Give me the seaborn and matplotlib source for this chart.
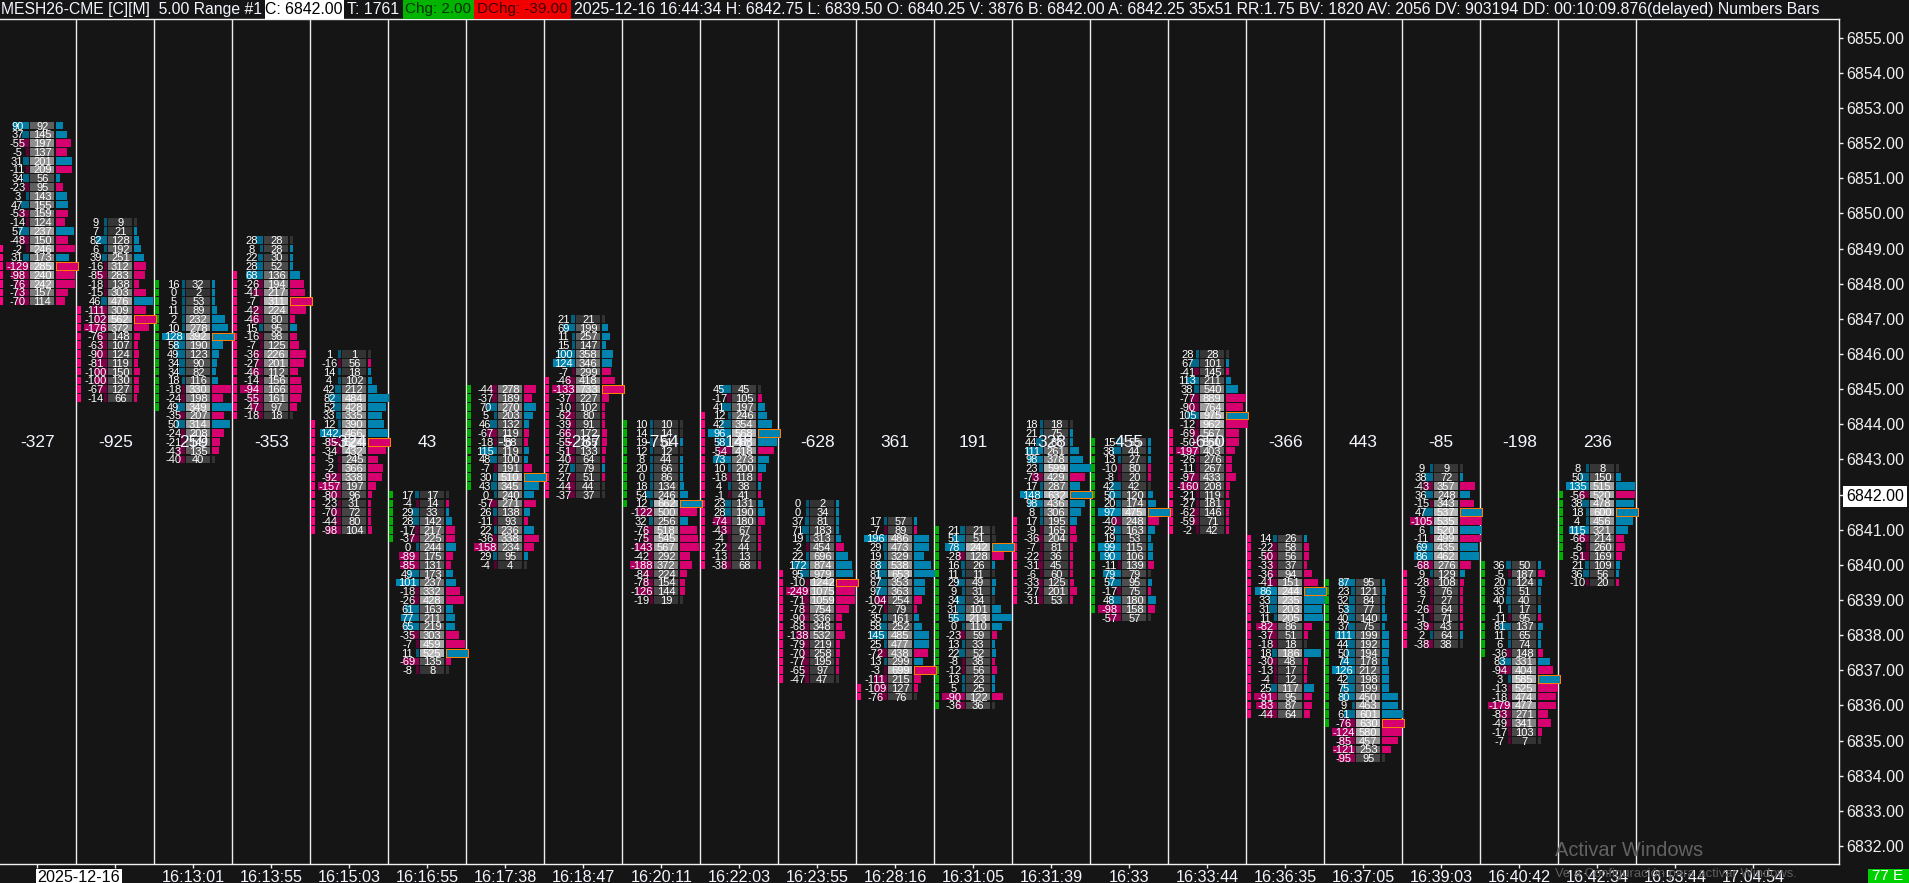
import numpy as np
import pandas as pd
import seaborn as sns
import matplotlib
matplotlib.use("Agg")
import matplotlib.pyplot as plt
from matplotlib import font_manager as fm
from matplotlib.patches import Rectangle

# ---------- data ----------
tick_labels = ["2025-12-16", "", "16:13:01", "16:13:55", "16:15:03", "16:16:55", "16:17:38", "16:18:47",
               "16:20:11", "16:22:03", "16:23:55", "16:28:16", "16:31:05", "16:31:39", "16:33", "16:33:44",
               "16:36:35", "16:37:05", "16:39:03", "16:40:42", "16:42:34", "16:53:44", "17:04:54"]
top_prices = [6852.5, 6849.75, 6848, 6849.25, 6846, 6842, 6845, 6847, 6844, 6845, 6841.75, 6841.25, 6841,
              6844, 6843.5, 6846, 6840.75, 6839.5, 6842.75, 6840, 6842.75]
net_delta = [-327, -925, 259, -353, -324, 43, -5, -287, -754, 148, -628, 361, 191, 328, 455, -650, -366, 443,
             -85, -198, 236]
body_first_row = [14, 10, 0, 4, 8, 0, 0, 7, 0, 3, 8, 19, 0, 11, 0, 9, 0, 0, 12, 0, 3]
body_last_row = [20, 20, 14, 20, 20, 5, 11, 20, 9, 20, 20, 20, 20, 20, 19, 20, 20, 16, 20, 10, 10]
body_is_up = [0, 0, 1, 0, 0, 1, 1, 0, 1, 0, 0, 0, 1, 0, 1, 0, 0, 1, 0, 1, 1]

deltas = [
    [90, 37, -55, -5, 31, -11, 34, -23, 3, 47, -53, -14, 57, -48, -2, 31, -129, -98, -76, -73, -70],
    [9, 7, 82, 6, 39, -16, -85, -18, -15, 46, -111, -102, -176, -76, -63, -90, -81, -100, -100, -67, -14],
    [16, 0, 5, 11, 2, 10, 128, 58, 49, 34, 34, 18, -18, -24, 49, -35, 50, -24, -21, -43, -40],
    [28, 8, 22, 28, 68, -26, -41, -7, -42, -46, 15, -16, -7, -36, -27, -46, -14, -94, -55, -47, -18],
    [1, -16, 14, 4, 42, 82, 52, 33, 12, 142, -85, -34, -5, -2, -92, -157, -80, -23, -70, -44, -98],
    [17, -4, 29, 28, -17, -37, 0, -89, -85, 49, 101, -18, -26, 61, 77, 65, -35, -7, 11, -69, -8],
    [-44, -37, 70, 5, 46, -67, -18, 115, 48, -7, 30, 43, 0, -57, 26, -11, 22, -36, -158, 29, -4],
    [21, 69, 11, 15, 100, 124, -7, -46, -133, -37, -10, -62, -39, -66, -55, -51, -40, 27, -27, -44, -37],
    [10, 14, 19, 12, 8, 20, 0, 18, 54, 12, -122, 32, -76, -75, -143, -42, -188, -84, -78, -126, -19],
    [45, -17, 41, 12, 42, 96, 58, -54, 73, 10, -18, 4, -1, 23, 28, -74, -43, -4, -22, -13, -38],
    [0, 0, 37, 71, 19, -2, 22, 172, 95, -10, -249, -71, -78, -90, -68, -138, -79, -70, -77, -65, -47],
    [17, -7, 196, 29, 19, 88, 81, 67, 97, -104, -27, 35, 58, 145, 25, -72, 13, -3, -111, -109, -76],
    [21, 51, 78, -28, 16, 11, 29, 9, 34, 31, 55, 0, -23, 13, 22, -8, -12, 13, 5, -90, -36],
    [18, 21, 44, 111, 98, 23, -73, 17, 148, 98, 8, 17, -9, -36, -7, -22, -31, -6, -33, -27, -31],
    [15, 38, 13, -10, -8, 42, 50, 20, 97, -40, 29, 19, 99, 90, -11, 79, 57, -17, 48, -98, -57],
    [28, 67, -41, 113, 38, -77, -90, 105, -12, -69, -50, -197, -26, -11, -97, -160, -21, -27, -62, -59, -2],
    [14, -22, -50, -33, -36, -41, 86, 33, 31, 11, -82, -37, -18, 18, -30, -13, -4, 25, -91, -83, -44],
    [87, 23, 32, 53, 40, 37, 111, 44, 50, 74, 126, 42, 75, 80, 9, 61, -76, -124, -85, -121, -95],
    [9, 38, -43, 36, -15, 47, -105, 6, -11, 69, 86, -68, 9, -28, -6, -7, -26, -1, -39, 2, -38],
    [36, -5, 20, 33, 40, 1, -11, 81, 11, 6, -36, 83, -94, 3, -13, -18, -179, -83, -49, -17, -7],
    [8, 50, 135, -56, 38, 18, 4, 115, -66, -6, -51, 21, 36, -10],
]
volumes = [
    [92, 145, 197, 137, 201, 209, 56, 95, 143, 155, 159, 124, 237, 150, 246, 173, 285, 240, 242, 157, 114],
    [9, 21, 128, 192, 251, 312, 283, 138, 303, 476, 309, 562, 372, 148, 107, 124, 119, 150, 130, 127, 66],
    [32, 2, 53, 89, 232, 278, 392, 190, 123, 90, 82, 116, 330, 198, 349, 207, 314, 208, 149, 135, 40],
    [28, 28, 30, 52, 136, 194, 217, 311, 224, 80, 95, 98, 125, 226, 201, 112, 156, 166, 161, 97, 18],
    [1, 56, 18, 102, 212, 484, 428, 335, 390, 466, 524, 432, 245, 366, 338, 197, 96, 31, 72, 80, 104],
    [17, 14, 33, 142, 217, 225, 244, 175, 131, 173, 237, 332, 428, 163, 211, 219, 303, 459, 525, 135, 8],
    [278, 189, 270, 203, 132, 119, 88, 119, 100, 191, 510, 345, 240, 271, 138, 93, 236, 338, 234, 95, 4],
    [21, 199, 257, 147, 358, 346, 299, 418, 733, 227, 102, 80, 91, 172, 165, 133, 64, 79, 51, 44, 37],
    [10, 14, 61, 12, 44, 66, 86, 134, 246, 662, 500, 256, 518, 545, 567, 292, 372, 224, 154, 144, 19],
    [45, 105, 197, 246, 354, 568, 488, 418, 273, 200, 118, 38, 41, 131, 190, 180, 67, 72, 44, 13, 68],
    [2, 34, 81, 183, 313, 454, 696, 874, 979, 1242, 1075, 1059, 754, 336, 348, 532, 219, 258, 195, 97, 47],
    [57, 89, 486, 473, 329, 538, 653, 353, 363, 254, 79, 161, 252, 485, 477, 438, 299, 699, 215, 127, 76],
    [21, 51, 242, 128, 26, 11, 49, 31, 34, 101, 213, 110, 59, 33, 52, 38, 56, 23, 25, 122, 36],
    [18, 75, 88, 261, 378, 599, 429, 287, 632, 436, 306, 195, 165, 204, 81, 36, 45, 60, 125, 201, 53],
    [55, 44, 27, 80, 20, 42, 120, 174, 475, 248, 163, 53, 115, 106, 139, 79, 95, 75, 180, 158, 57],
    [28, 101, 145, 211, 540, 889, 764, 975, 962, 567, 560, 403, 276, 267, 433, 208, 119, 181, 146, 71, 42],
    [26, 58, 56, 37, 94, 151, 244, 235, 203, 205, 86, 51, 18, 186, 48, 17, 12, 117, 95, 87, 64],
    [95, 121, 84, 77, 140, 75, 199, 192, 194, 178, 212, 198, 199, 450, 463, 601, 630, 580, 457, 253, 95],
    [9, 72, 357, 248, 343, 537, 535, 520, 499, 435, 462, 276, 129, 108, 76, 27, 64, 71, 43, 64, 38],
    [50, 187, 124, 51, 40, 17, 95, 137, 65, 74, 148, 331, 404, 585, 525, 474, 477, 271, 341, 103, 7],
    [8, 150, 515, 520, 478, 600, 456, 321, 214, 260, 169, 109, 56, 20],
]
header_left = "MESH26-CME [C][M]  5.00 Range #1"
header_right = ("2025-12-16 16:44:34 H: 6842.75 L: 6839.50 O: 6840.25 V: 3876 B: 6842.00 A: 6842.25 35x51 "
                "RR:1.75 BV: 1820 AV: 2056 DV: 903194 DD: 00:10:09.876(delayed) Numbers Bars")
last_price = 6842
y_ticks = np.arange(6832, 6856)

# ---------- style ----------
BG = "#151515"
sns.set_theme(style="dark", rc={"figure.facecolor": BG, "axes.facecolor": BG, "savefig.facecolor": BG,
                                "axes.grid": False})
installed = {f.name for f in fm.fontManager.ttflist}
NARROW = ["Liberation Sans Narrow", "Liberation Sans"] if "Liberation Sans Narrow" in installed else ["Liberation Sans"]
HAS_NARROW = "Liberation Sans Narrow" in installed
plt.rcParams["font.family"] = ["Liberation Sans", "DejaVu Sans"]

W, H = 1909, 883
AX_RIGHT, AX_TOP, AX_BOTTOM = 1839.4, 19.5, 864.0
fig = plt.figure(figsize=(W / 100, H / 100), dpi=100)
ax = fig.add_axes([0, (H - AX_BOTTOM) / H, AX_RIGHT / W, (AX_BOTTOM - AX_TOP) / H])

SLOT = 78.0          # px per bar slot
X0 = 37.3            # px of first slot centre
PX = 1 / SLOT
BLUE, PINK, GRAY = "#0083ae", "#d6006e", "#333333"
UP_STRIP, DOWN_STRIP = "#00b000", "#ff0080"
gray_ramp = sns.blend_palette(["#333333", "#b8b8b8"], 40)
blue_ramp = sns.blend_palette(["#005a78", "#0088b4"], 20)
pink_ramp = sns.blend_palette(["#5c0034", "#ad0060"], 20)


def ramp(palette, frac):
    return palette[int(round(np.clip(frac, 0, 1) * (len(palette) - 1)))]


def draw_cells(frame, widths, left, colors, zorder=2):
    """One horizontal seaborn bar per price row of a footprint bar."""
    data = frame.assign(w=widths)
    sns.barplot(data=data, y="price", x="w", orient="y", native_scale=True, left=left, width=0.87,
                errorbar=None, color=BLUE, saturation=1, linewidth=0, ax=ax, zorder=zorder,
                antialiased=False)
    patches = ax.containers[-1].patches
    for patch, col in zip(patches, colors):
        patch.set_facecolor(col)
    return patches


SMALL = {"family": NARROW, "fontsize": 9.6 if HAS_NARROW else 8.0, "color": "#ffffff", "ha": "center",
         "va": "center_baseline", "zorder": 6}

for i, (dlt, vol, top) in enumerate(zip(deltas, volumes, top_prices)):
    rows = np.arange(len(dlt))
    frame = pd.DataFrame({"row": rows, "price": top - 0.25 * rows, "delta": dlt, "volume": vol})
    frame = frame.sort_values("price").reset_index(drop=True)
    centre = float(i)
    x_l = centre - 0.5

    # open/close strip
    body = frame[(frame.row >= body_first_row[i]) & (frame.row <= body_last_row[i])]
    draw_cells(body, np.full(len(body), 4 * PX), x_l + 0.3 * PX,
               [UP_STRIP if body_is_up[i] else DOWN_STRIP] * len(body))

    # delta cells grow to the left from a fixed edge
    dmax = frame.delta.abs().max()
    d_w = np.maximum(3, 23 * frame.delta.abs() / dmax) * PX
    d_col = [ramp(blue_ramp if d >= 0 else pink_ramp, abs(d) / dmax) for d in frame.delta]
    draw_cells(frame, -d_w, x_l + 30.6 * PX, d_col)

    # volume cells
    vmax = frame.volume.max()
    draw_cells(frame, np.full(len(frame), 23.6 * PX), x_l + 32 * PX,
               [ramp(gray_ramp, v / vmax) for v in frame.volume])

    # profile bars
    p_w = np.maximum(3, 22.7 * frame.volume / vmax) * PX
    p_col = [GRAY if abs(d) == v else (BLUE if d >= 0 else PINK) for d, v in zip(frame.delta, frame.volume)]
    patches = draw_cells(frame, p_w, x_l + 57.3 * PX, p_col)
    poc = patches[int(frame.volume.values.argmax())]
    poc.set_edgecolor("#ff8000")
    poc.set_linewidth(0.6)
    poc.set_zorder(5)

    for _, r in frame.iterrows():
        ax.text(x_l + 19 * PX, r.price, f"{int(r.delta)}", **SMALL)
        ax.text(x_l + 44 * PX, r.price, f"{int(r.volume)}", **SMALL)

    ax.text(centre, 6855 - (442 - 37.7) / 35.14, str(net_delta[i]), ha="center", va="center",
            fontsize=12.5, color="#f4f6ff", zorder=7)

# slot separators
for i in range(len(deltas)):
    ax.axvline(i + 0.5, color="#ececec", lw=1.0, zorder=1)

# scales
ax.set_xlim(-X0 / SLOT, (AX_RIGHT - X0) / SLOT)
ax.set_ylim(6832 - (AX_BOTTOM - 846.0) / 35.14, 6855 + (37.7 - AX_TOP) / 35.14)
ax.set_xlabel("")
ax.set_ylabel("")
ax.yaxis.tick_right()
ax.set_yticks(y_ticks)
ax.set_yticklabels([f"{v:.2f}" for v in y_ticks], fontsize=11.5, color="#f0f0f0")
ax.set_xticks(range(len(tick_labels)))
ax.set_xticklabels(tick_labels, fontsize=11.6, color="#f4f6ff")
ax.tick_params(axis="both", which="both", colors="#f0f0f0", length=3, width=1, pad=2, bottom=True, right=True,
               left=False, top=False)
ax.tick_params(axis="x", pad=1.5)
for lab in ax.get_xticklabels():
    lab.set_color("#f4f6ff")
for lab in ax.get_yticklabels():
    lab.set_color("#f0f0f0")

date_label = ax.get_xticklabels()[0]
date_label.set_ha("left")
date_label.set_color("black")
date_label.set_bbox(dict(facecolor="white", edgecolor="none", pad=1.2))

price_label = ax.get_yticklabels()[list(y_ticks).index(last_price)]
price_label.set_color("black")
price_label.set_bbox(dict(facecolor="white", edgecolor="none", pad=2.2))

for side, vis in {"left": False, "top": True, "right": True, "bottom": True}.items():
    ax.spines[side].set_visible(vis)
    ax.spines[side].set_color("#f0f0f0")
    ax.spines[side].set_linewidth(1.0)


# ---------- header and overlays, placed in figure pixels ----------
def box(x0, y0, x1, y1, color):
    fig.add_artist(Rectangle((x0 / W, 1 - y1 / H), (x1 - x0) / W, (y1 - y0) / H, transform=fig.transFigure,
                             facecolor=color, edgecolor="none", zorder=8))


def label(x, y, s, size=11.0, color="#f4f6ff", ha="left", alpha=1.0):
    fig.text(x / W, 1 - y / H, s, fontsize=size, color=color, ha=ha, va="center", zorder=9, alpha=alpha)


box(264.5, 0, 344, 18.5, "#ffffff")
box(403, 0, 473.5, 18.5, "#00b400")
box(473.5, 0, 571.3, 18.5, "#f00000")
label(1, 9.5, header_left, 11.3)
label(304, 9.5, "C: 6842.00", 11.4, "#000000", "center")
label(373, 9.5, "T: 1761", 11.4, ha="center")
label(438, 9.5, "Chg: 2.00", 11.0, "#003000", "center")
label(522, 9.5, "DChg: -39.00", 11.0, "#400000", "center")
label(574, 9.5, header_right, 11.45)

box(1868, 868.5, 1909, 883, "#00d000")
label(1888, 876, "77 E", 11, "#ffffff", "center")

label(1555, 851, "Activar Windows", 14.4, "#626262")
label(1555, 874, "Ve a Configuración para activar Windows.", 9.4, "#5e5e5e")

fig.savefig("out.png", dpi=100)
